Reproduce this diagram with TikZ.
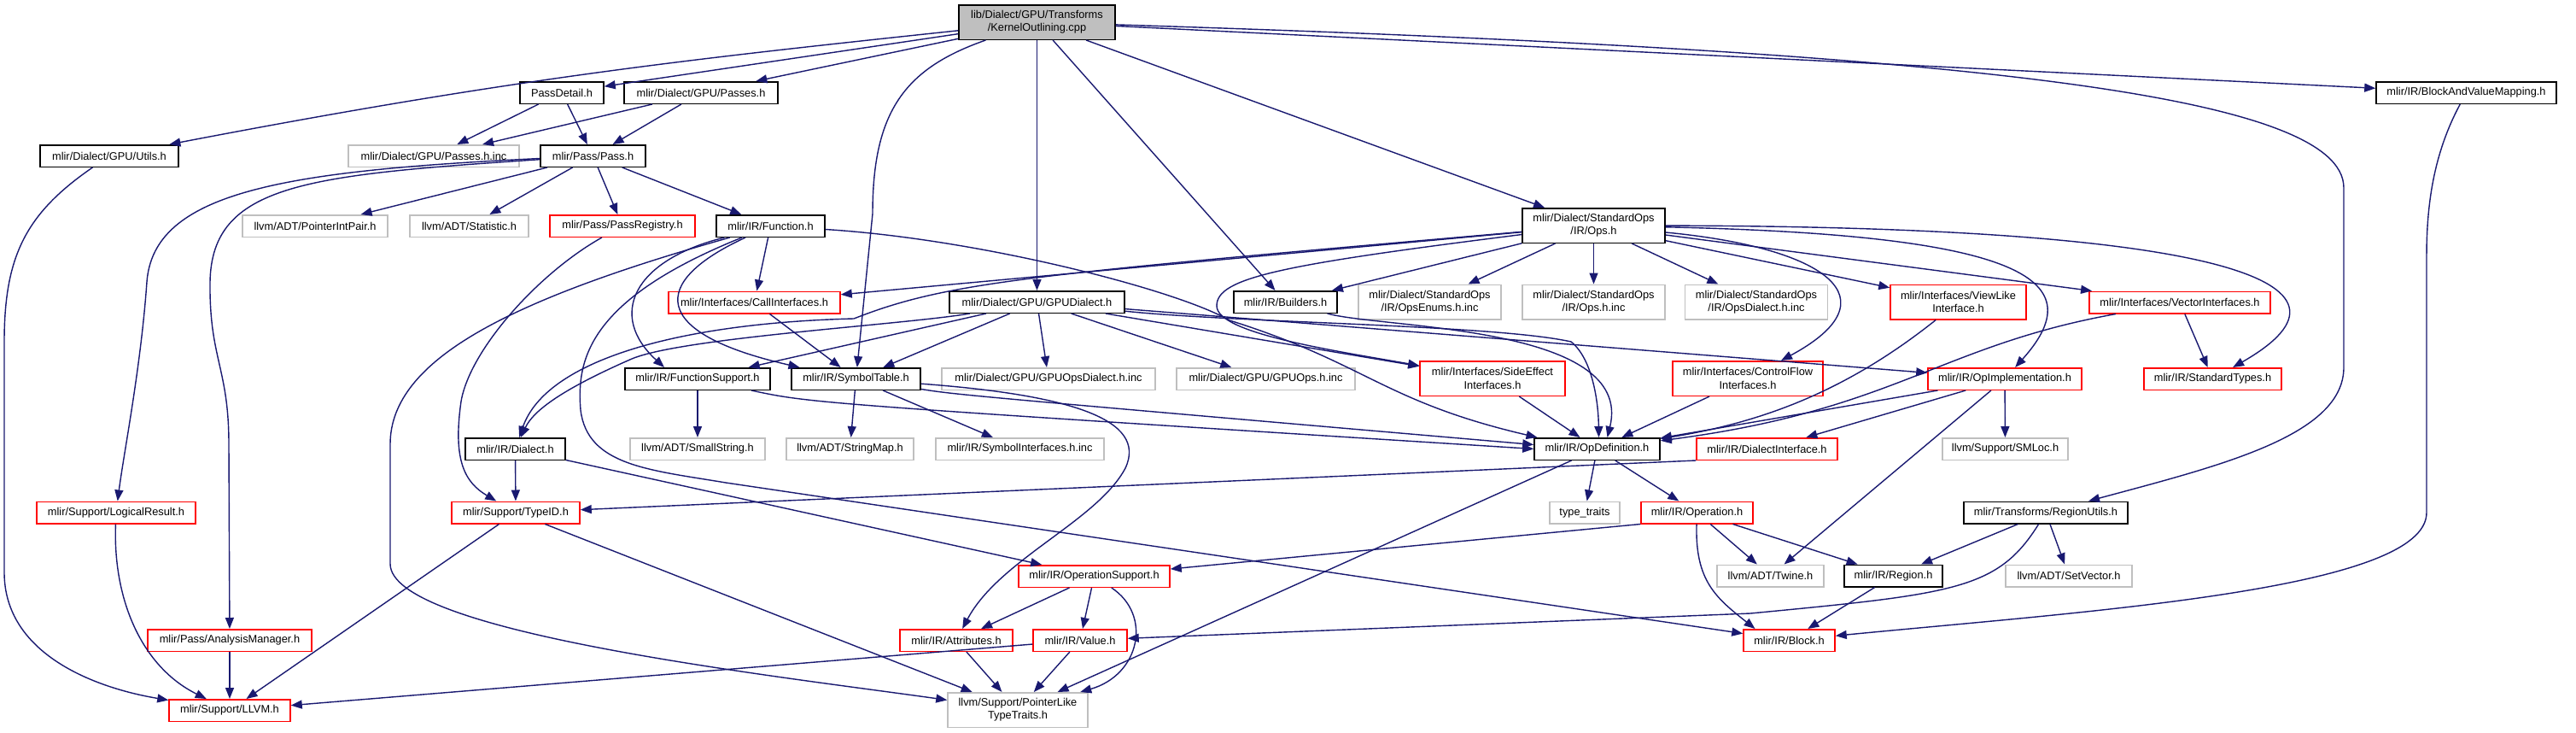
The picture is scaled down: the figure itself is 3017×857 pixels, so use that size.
\documentclass[tikz,border=0pt]{standalone}
\usepackage{fontspec}
\setmainfont{Liberation Sans}
\usetikzlibrary{arrows.meta}

\definecolor{midblue}{HTML}{191970}
\definecolor{grey75}{HTML}{BFBFBF}

\begin{document}
\begin{tikzpicture}[x=1pt, y=-1pt,
		every node/.style = {shape=rectangle, draw, align=center, fill=white,
				inner sep=0pt, line width=1.5pt, minimum height=25.5pt,
				font=\fontsize{12.8}{15.3}\selectfont},
		docfile/.style = {draw=black},
		redfile/.style = {draw=red},
		sysfile/.style = {draw=grey75},
		twoline/.style = {minimum height=40.5pt},
		incl/.style = {draw=midblue, line width=1.4pt,
				-{Triangle[length=13pt, width=10pt]}}
	]

	\useasboundingbox (0,0) rectangle (3017,857);

	\node[docfile, twoline, fill=grey75, minimum width=183pt] (ko) at (1214.5,26) {lib/Dialect/GPU/Transforms\\/KernelOutlining.cpp};
	\node[docfile, minimum width=98pt] (passdetail) at (658,108.5) {PassDetail.h};
	\node[docfile, minimum width=180pt] (gpupasses) at (821,108.5) {mlir/Dialect/GPU/Passes.h};
	\node[docfile, minimum width=211pt] (bvm) at (2888.5,108.5) {mlir/IR/BlockAndValueMapping.h};
	\node[docfile, minimum width=162pt] (gpuutils) at (128,182.5) {mlir/Dialect/GPU/Utils.h};
	\node[sysfile, minimum width=200pt] (passesinc) at (508,182.5) {mlir/Dialect/GPU/Passes.h.inc};
	\node[docfile, minimum width=123pt] (pass) at (694.5,182.5) {mlir/Pass/Pass.h};
	\node[sysfile, minimum width=170pt] (ptrintpair) at (369,264.5) {llvm/ADT/PointerIntPair.h};
	\node[sysfile, minimum width=139pt] (statistic) at (549.5,264.5) {llvm/ADT/Statistic.h};
	\node[redfile, minimum width=170pt] (passreg) at (729,264.5) {mlir/Pass/PassRegistry.h};
	\node[docfile, minimum width=127pt] (function) at (902.5,264.5) {mlir/IR/Function.h};
	\node[docfile, twoline, minimum width=167pt] (stdops) at (1866.5,264) {mlir/Dialect/StandardOps\\/IR/Ops.h};
	\node[redfile, minimum width=201pt] (callif) at (883.5,354) {mlir/Interfaces/CallInterfaces.h};
	\node[docfile, minimum width=205pt] (gpudialect) at (1214.5,353.5) {mlir/Dialect/GPU/GPUDialect.h};
	\node[docfile, minimum width=121pt] (builders) at (1505.5,353.5) {mlir/IR/Builders.h};
	\node[sysfile, twoline, minimum width=167pt] (opsenums) at (1674.5,353.5) {mlir/Dialect/StandardOps\\/IR/OpsEnums.h.inc};
	\node[sysfile, twoline, minimum width=167pt] (opsinc) at (1866.5,353.5) {mlir/Dialect/StandardOps\\/IR/Ops.h.inc};
	\node[sysfile, twoline, minimum width=167pt] (opsdialectinc) at (2057,353.5) {mlir/Dialect/StandardOps\\/IR/OpsDialect.h.inc};
	\node[redfile, twoline, minimum width=159pt] (viewlike) at (2293.5,353.5) {mlir/Interfaces/ViewLike\\Interface.h};
	\node[redfile, minimum width=212pt] (vectorif) at (2553,354) {mlir/Interfaces/VectorInterfaces.h};
	\node[docfile, minimum width=170pt] (funcsupport) at (817,443.5) {mlir/IR/FunctionSupport.h};
	\node[docfile, minimum width=151pt] (symtable) at (1002.5,443.5) {mlir/IR/SymbolTable.h};
	\node[sysfile, minimum width=250pt] (gpuopsdialectinc) at (1228,443.5) {mlir/Dialect/GPU/GPUOpsDialect.h.inc};
	\node[sysfile, minimum width=209pt] (gpuopsinc) at (1482.5,443.5) {mlir/Dialect/GPU/GPUOps.h.inc};
	\node[redfile, twoline, minimum width=170pt] (sideeffect) at (1748,443) {mlir/Interfaces/SideEffect\\Interfaces.h};
	\node[redfile, twoline, minimum width=176pt] (controlflow) at (2047,443) {mlir/Interfaces/ControlFlow\\Interfaces.h};
	\node[redfile, minimum width=180pt] (opimpl) at (2348,443.5) {mlir/IR/OpImplementation.h};
	\node[redfile, minimum width=161pt] (stdtypes) at (2591.5,443.5) {mlir/IR/StandardTypes.h};
	\node[docfile, minimum width=117pt] (dialect) at (603.5,525.5) {mlir/IR/Dialect.h};
	\node[sysfile, minimum width=158pt] (smallstring) at (817,525.5) {llvm/ADT/SmallString.h};
	\node[sysfile, minimum width=149pt] (stringmap) at (995.5,525.5) {llvm/ADT/StringMap.h};
	\node[sysfile, minimum width=197pt] (symifinc) at (1194.5,525.5) {mlir/IR/SymbolInterfaces.h.inc};
	\node[docfile, minimum width=147pt] (opdef) at (1870.5,525.5) {mlir/IR/OpDefinition.h};
	\node[redfile, minimum width=165pt] (dialectif) at (2069.5,525.5) {mlir/IR/DialectInterface.h};
	\node[sysfile, minimum width=147pt] (smloc) at (2348.5,525.5) {llvm/Support/SMLoc.h};
	\node[redfile, minimum width=186pt] (logicalres) at (136,600) {mlir/Support/LogicalResult.h};
	\node[redfile, minimum width=150pt] (typeid) at (604,600) {mlir/Support/TypeID.h};
	\node[sysfile, minimum width=82pt] (typetraits) at (1856,600) {type\_traits};
	\node[redfile, minimum width=131pt] (operation) at (1987.5,600) {mlir/IR/Operation.h};
	\node[docfile, minimum width=192pt] (regionutils) at (2396,600) {mlir/Transforms/RegionUtils.h};
	\node[redfile, minimum width=177pt] (opsupport) at (1281.5,674.5) {mlir/IR/OperationSupport.h};
	\node[sysfile, minimum width=125pt] (twine) at (2073.5,674) {llvm/ADT/Twine.h};
	\node[docfile, minimum width=115pt] (region) at (2217.5,674) {mlir/IR/Region.h};
	\node[sysfile, minimum width=148pt] (setvector) at (2423,674) {llvm/ADT/SetVector.h};
	\node[redfile, minimum width=192pt] (analysismgr) at (269,749.5) {mlir/Pass/AnalysisManager.h};
	\node[redfile, minimum width=132pt] (attributes) at (1120,749.5) {mlir/IR/Attributes.h};
	\node[redfile, minimum width=110pt] (value) at (1265,749.5) {mlir/IR/Value.h};
	\node[redfile, minimum width=107pt] (block) at (2095.5,749.5) {mlir/IR/Block.h};
	\node[redfile, minimum width=142pt] (llvm) at (269,831.5) {mlir/Support/LLVM.h};
	\node[sysfile, twoline, minimum width=164pt] (ptrlike) at (1192,831) {llvm/Support/PointerLike\\TypeTraits.h};

	% top file
	\draw[incl] (ko) -- (passdetail);
	\draw[incl] (ko) -- (gpupasses);
	\draw[incl] (ko) .. controls (800,70) and (600,92) .. (gpuutils);
	\draw[incl] (ko) .. controls (1060,80) and (1022,130) .. (1022,250) -- (symtable);
	\draw[incl] (ko) -- (gpudialect);
	\draw[incl] (ko) -- (builders);
	\draw[incl] (ko) -- (stdops);
	\draw[incl] (ko) -- (bvm);
	\draw[incl] (ko) .. controls (2300,60) and (2745,110) .. (2745,220) -- (2745,430) .. controls (2745,510) and (2600,545) .. (regionutils);

	\draw[incl] (passdetail) -- (passesinc);
	\draw[incl] (passdetail) -- (pass);
	\draw[incl] (gpupasses) -- (passesinc);
	\draw[incl] (gpupasses) -- (pass);
	\draw[incl] (gpuutils) .. controls (30,250) and (5,300) .. (5,400) -- (5,670) .. controls (5,765) and (110,805) .. (llvm);
	\draw[incl] (bvm) .. controls (2850,180) and (2842,240) .. (2842,300) -- (2842,600) .. controls (2842,690) and (2450,715) .. (block);

	% Pass.h
	\draw[incl] (pass) .. controls (330,200) and (180,225) .. (172,330) .. controls (165,430) and (145,530) .. (logicalres);
	\draw[incl] (pass) .. controls (360,205) and (248,215) .. (246,330) .. controls (245,420) and (268,430) .. (268,520) -- (analysismgr);
	\draw[incl] (pass) -- (ptrintpair);
	\draw[incl] (pass) -- (statistic);
	\draw[incl] (pass) -- (passreg);
	\draw[incl] (pass) -- (function);
	\draw[incl] (passreg) .. controls (630,320) and (550,410) .. (540,470) .. controls (530,540) and (545,565) .. (typeid);

	% Function.h
	\draw[incl] (function) -- (callif);
	\draw[incl] (function) .. controls (740,305) and (712,370) .. ([xshift=-39pt]funcsupport.north);
	\draw[incl] (function) .. controls (760,330) and (760,390) .. ([xshift=-66pt]symtable.north);
	\draw[incl] (function) .. controls (600,350) and (457,420) .. (457,520) -- (457,660) .. controls (457,740) and (900,790) .. (ptrlike);
	\draw[incl] (function) .. controls (690,350) and (675,420) .. (680,480) .. controls (688,545) and (760,550) .. (850,565) -- (block);
	\draw[incl] (function) .. controls (1150,280) and (1380,340) .. (1440,375) .. controls (1600,425) and (1620,470) .. ([xshift=-70pt]opdef.north);

	% Ops.h
	\draw[incl] (stdops) -- (callif);
	\draw[incl] (stdops) .. controls (1200,322) and (1110,330) .. (1000,373) .. controls (800,378) and (640,420) .. (dialect);
	\draw[incl] (stdops) .. controls (1500,310) and (1425,325) .. (1425,358) .. controls (1425,390) and (1560,410) .. (sideeffect);
	\draw[incl] (stdops) -- (builders);
	\draw[incl] (stdops) -- (opsenums);
	\draw[incl] (stdops) -- (opsinc);
	\draw[incl] (stdops) -- (opsdialectinc);
	\draw[incl] (stdops) .. controls (2140,290) and (2220,350) .. (controlflow);
	\draw[incl] (stdops) -- (viewlike);
	\draw[incl] (stdops) .. controls (2380,275) and (2450,330) .. (opimpl);
	\draw[incl] (stdops) -- (vectorif);
	\draw[incl] (stdops) .. controls (2600,265) and (2790,330) .. (stdtypes);

	% GPUDialect.h
	\draw[incl] (gpudialect) .. controls (1060,380) and (800,395) .. (740,420) .. controls (660,455) and (625,480) .. (dialect);
	\draw[incl] (gpudialect) -- (funcsupport);
	\draw[incl] (gpudialect) -- (symtable);
	\draw[incl] (gpudialect) -- (gpuopsdialectinc);
	\draw[incl] (gpudialect) -- (gpuopsinc);
	\draw[incl] (gpudialect) -- (sideeffect);
	\draw[incl] (gpudialect) .. controls (1450,378) and (1750,380) .. (1840,400) .. controls (1865,420) and (1872,470) .. ([xshift=2pt]opdef.north);
	\draw[incl] (gpudialect) -- (opimpl);

	\draw[incl] (callif) -- (symtable);
	\draw[incl] (builders) .. controls (1620,385) and (1915,380) .. ([xshift=12pt]opdef.north);
	\draw[incl] (funcsupport) -- (smallstring);
	\draw[incl] (funcsupport) .. controls (950,472) .. (opdef.west);
	\draw[incl] (symtable) -- (stringmap);
	\draw[incl] (symtable) -- (symifinc);
	\draw[incl] (symtable) .. controls (1120,462) .. ([yshift=5pt]opdef.west);
	\draw[incl] (symtable) .. controls (1250,462) and (1345,490) .. (1318,548) .. controls (1285,610) and (1170,655) .. (attributes);
	\draw[incl] (sideeffect) -- (opdef);
	\draw[incl] (controlflow) -- (opdef);
	\draw[incl] (viewlike) .. controls (2160,460) and (2060,495) .. (opdef);
	\draw[incl] (vectorif) .. controls (2270,405) and (2220,480) .. (opdef);
	\draw[incl] (vectorif) -- (stdtypes);
	\draw[incl] (opimpl) -- (opdef);
	\draw[incl] (opimpl) -- (dialectif);
	\draw[incl] (opimpl) -- (smloc);
	\draw[incl] (opimpl) -- (twine);

	\draw[incl] (dialect) -- (typeid);
	\draw[incl] (dialect) -- (opsupport);
	\draw[incl] (dialectif.south west) -- (typeid);
	\draw[incl] (opdef) -- (typetraits);
	\draw[incl] (opdef) -- (operation);
	\draw[incl] (opdef) -- (ptrlike);

	\draw[incl] (operation.south west) -- (opsupport);
	\draw[incl] (operation) -- (twine);
	\draw[incl] (operation) -- (region);
	\draw[incl] (operation) .. controls (1985,680) and (2010,700) .. ([xshift=-40pt]block.north);
	\draw[incl] (regionutils) -- (region);
	\draw[incl] (regionutils) -- (setvector);
	\draw[incl] (regionutils) .. controls (2340,690) and (2290,695) .. (2050,718) -- (value);
	\draw[incl] (region) -- (block);

	\draw[incl] (opsupport) -- (attributes);
	\draw[incl] (opsupport) -- (value);
	\draw[incl] (opsupport) .. controls (1350,720) and (1335,790) .. (ptrlike);
	\draw[incl] (attributes) -- (ptrlike);
	\draw[incl] (value) -- (ptrlike);
	\draw[incl] (value) -- (llvm);

	\draw[incl] (typeid) -- (llvm);
	\draw[incl] (typeid) -- (ptrlike);
	\draw[incl] (logicalres) .. controls (132,700) and (165,780) .. (llvm);
	\draw[incl] (analysismgr) -- (llvm);
\end{tikzpicture}
\end{document}
